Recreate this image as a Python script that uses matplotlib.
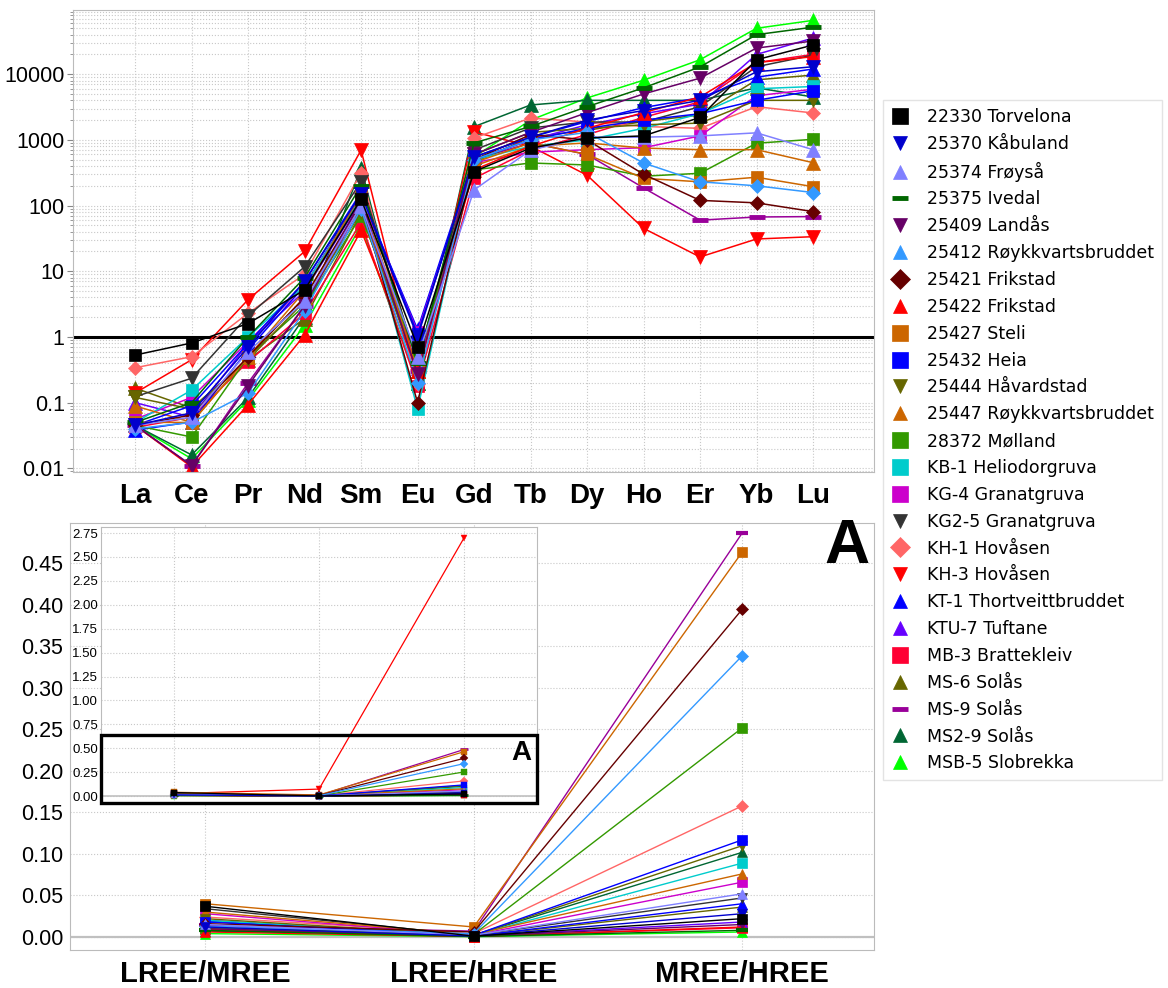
import numpy as np
import matplotlib
matplotlib.use("Agg")
import matplotlib.pyplot as plt
from matplotlib.lines import Line2D
from matplotlib.patches import Rectangle
from matplotlib.ticker import LogLocator, NullFormatter, FixedLocator

#----------------------------------------
#--------chondrite normalised REE-------
#----------------------------------------
elements = ["La", "Ce", "Pr", "Nd", "Sm", "Eu", "Gd", "Tb", "Dy", "Ho", "Er", "Yb", "Lu"]

samples = ["22330 Torvelona", "25370 Kåbuland", "25374 Frøyså", "25375 Ivedal",
           "25409 Landås", "25412 Røykkvartsbruddet", "25421 Frikstad", "25422 Frikstad",
           "25427 Steli", "25432 Heia", "25444 Håvardstad", "25447 Røykkvartsbruddet",
           "28372 Mølland", "KB-1 Heliodorgruva", "KG-4 Granatgruva", "KG2-5 Granatgruva",
           "KH-1 Hovåsen", "KH-3 Hovåsen", "KT-1 Thortveittbruddet", "KTU-7 Tuftane",
           "MB-3 Brattekleiv", "MS-6 Solås", "MS-9 Solås", "MS2-9 Solås", "MSB-5 Slobrekka"]

s22330 = [0.53, 0.81, 1.6, 5.2, 126, 0.71, 330, 750, 1070, 1150, 2200, 16600, 27800]
s25370 = [0.045, 0.07, 0.7, 7, 150, 1.0, 550, 1100, 2000, 2800, 4000, 10900, 13000]
s25374 = [0.045, 0.06, 0.6, 3.5, 100, 0.5, 173, 700, 1100, 1100, 1150, 1280, 710]
s25375 = [0.05, 0.1, 1.0, 8, 200, 0.4, 900, 1600, 3200, 6200, 12900, 40000, 52000]
s25409 = [0.045, 0.011, 0.18, 3, 120, 0.27, 600, 1300, 2600, 5000, 8700, 25000, 32000]
s25412 = [0.04, 0.05, 0.14, 2.5, 90, 0.2, 500, 1000, 1300, 445, 230, 200, 158]
s25421 = [0.045, 0.065, 0.5, 4, 110, 0.10, 500, 1200, 1000, 300, 120, 110, 81]
s25422 = [0.045, 0.0105, 0.093, 1.07, 42, 0.3, 350, 800, 1500, 2600, 4500, 15000, 18500]
s25427 = [0.05, 0.05, 0.5, 5, 150, 0.3, 450, 900, 600, 260, 230, 270, 194]
s25432 = [0.045, 0.09, 0.8, 7, 160, 1.1, 500, 1000, 1500, 2000, 2500, 4000, 5600]
s25444 = [0.12, 0.08, 0.45, 3.5, 80, 0.3, 600, 1300, 1500, 1700, 1800, 4000, 4000]
s25447 = [0.089, 0.05, 0.5, 4, 100, 0.3, 400, 800, 900, 750, 710, 710, 450]
s28372 = [0.045, 0.03, 0.5, 3, 70, 0.48, 350, 445, 415, 280, 310, 890, 1020]
kb1 = [0.05, 0.155, 1.0, 6, 130, 0.08, 500, 800, 1000, 1500, 2500, 6000, 6500]
kg4 = [0.056, 0.12, 0.85, 6, 130, 1.2, 450, 650, 710, 760, 1150, 4700, 5900]
kg25 = [0.123, 0.235, 2.1, 11.7, 230, 0.4, 700, 1520, 1870, 1870, 3200, 13000, 19500]
kh1 = [0.34, 0.50, 2.3, 9, 315, 0.19, 1070, 2150, 1870, 1600, 1500, 3200, 2570]
kh3 = [0.14, 0.45, 3.7, 20, 700, 0.25, 1320, 800, 290, 45, 16.5, 31, 33.6]
kt1 = [0.038, 0.051, 0.64, 6, 140, 1.3, 550, 1100, 1900, 3100, 4400, 9000, 12000]
ktu7 = [0.1, 0.06, 0.8, 5, 120, 0.34, 500, 1000, 1700, 2500, 3500, 20000, 35500]
mb3 = [0.042, 0.06, 0.42, 2.3, 55, 0.18, 260, 700, 1200, 2200, 3800, 15000, 20000]
ms6 = [0.166, 0.083, 0.45, 1.9, 77, 0.3, 450, 1100, 1400, 1900, 2400, 8200, 9700]
ms9 = [0.045, 0.011, 0.2, 3, 100, 0.3, 500, 900, 600, 186, 60, 67, 68]
ms29 = [0.045, 0.016, 0.12, 2, 375, 0.2, 1590, 3400, 4000, 4000, 4000, 6200, 4500]
msb5 = [0.045, 0.014, 0.11, 1.5, 50, 0.2, 550, 2000, 4350, 8100, 16600, 50000, 66000]

# ratio diagram, same sample order
ratio_names = ["LREE/MREE", "LREE/HREE", "MREE/HREE"]
lree_mree = [0.037, 0.012, 0.015, 0.008, 0.010, 0.013, 0.016, 0.006, 0.040, 0.018, 0.022, 0.030,
             0.011, 0.020, 0.028, 0.034, 0.024, 0.025, 0.020, 0.019, 0.009, 0.010, 0.014, 0.007, 0.004]
lree_hree = [0.001, 0.001, 0.002, 0.0005, 0.001, 0.004, 0.006, 0.0005, 0.012, 0.002, 0.002, 0.003,
             0.003, 0.002, 0.002, 0.002, 0.004, 0.073, 0.001, 0.001, 0.0005, 0.001, 0.007, 0.002, 0.0003]
mree_hree = [0.022, 0.028, 0.052, 0.008, 0.015, 0.339, 0.395, 0.012, 0.464, 0.117, 0.110, 0.076,
             0.252, 0.089, 0.066, 0.047, 0.158, 2.70, 0.040, 0.018, 0.011, 0.036, 0.487, 0.102, 0.006]

colors = ["#000000", "#0000CC", "#8080FF", "#006600", "#660066", "#3399FF", "#660000", "#FF0000",
          "#CC6600", "#0000FF", "#666600", "#CC6600", "#339900", "#00CCCC", "#CC00CC", "#333333",
          "#FF6666", "#FF0000", "#0000FF", "#6600FF", "#FF0033", "#666600", "#990099", "#006633",
          "#00FF00"]
markers = ["s", "v", "^", "_", "v", "D", "D", "^", "s", "s", "v", "^", "s", "s", "s", "v",
           "D", "v", "^", "^", "s", "^", "_", "^", "^"]
legend_markers = markers.copy()
legend_markers[5] = "^"

rows = [s22330, s25370, s25374, s25375, s25409, s25412, s25421, s25422, s25427, s25432,
        s25444, s25447, s28372, kb1, kg4, kg25, kh1, kh3, kt1, ktu7, mb3, ms6, ms9, ms29, msb5]

msize = {"s": 9, "v": 10, "^": 10, "D": 7.5, "_": 11}

plt.rcParams["font.family"] = ["Liberation Sans", "DejaVu Sans"]

fig = plt.figure(figsize=(11.68, 9.88), dpi=100)

#----------------------------------------
#--------spider diagram-----------
#----------------------------------------
ax = fig.add_axes([0.0625, 0.5223, 0.6858, 0.4676])
x = np.arange(len(elements))
for i in reversed(range(len(samples))):
    m = markers[i]
    ax.plot(x, rows[i], color=colors[i], lw=1.1, marker=m, ms=msize[m],
            mew=3.5 if m == "_" else 0.5, mec=colors[i], mfc=colors[i])
ax.axhline(1, color="black", lw=2.2, zorder=1)
ax.set_yscale("log")
ax.set_ylim(0.0088, 95000)
ax.set_xlim(-1.1, 13.08)
ax.set_xticks(x)
ax.set_xticklabels(elements, fontsize=20, fontweight="bold")
ax.yaxis.set_major_locator(FixedLocator([0.01, 0.1, 1, 10, 100, 1000, 10000]))
ax.set_yticklabels(["0.01", "0.1", "1", "10", "100", "1000", "10000"], fontsize=15.5)
ax.yaxis.set_minor_locator(LogLocator(base=10, subs=np.arange(2, 10)))
ax.yaxis.set_minor_formatter(NullFormatter())
ax.tick_params(axis="x", length=0, pad=8)
ax.tick_params(axis="y", which="major", length=4, color="#888888", pad=2)
ax.tick_params(axis="y", which="minor", length=2, color="#888888")
ax.grid(axis="y", which="both", ls=":", color="#C8C8C8", lw=0.8)
ax.grid(axis="x", ls=":", color="#C8C8C8", lw=0.8)
ax.set_axisbelow(True)
for sp in ax.spines.values():
    sp.set_color("#BBBBBB")

#----------------------------------------
#--------ratio diagram-----------
#----------------------------------------
ax2 = fig.add_axes([0.0599, 0.0385, 0.6884, 0.4322])
xr = np.arange(3)
for i in reversed(range(len(samples))):
    if samples[i] == "KH-3 Hovåsen":
        continue
    m = markers[i]
    ax2.plot(xr, [lree_mree[i], lree_hree[i], mree_hree[i]], color=colors[i], lw=1.0,
             marker=m, ms=msize[m] * 0.75, mew=3 if m == "_" else 0.5, mec=colors[i], mfc=colors[i])
ax2.axhline(0, color="#C0C0C0", lw=1.6, zorder=1)
ax2.set_ylim(-0.0157, 0.4988)
ax2.set_xlim(-0.503, 2.49)
ax2.set_xticks(xr)
ax2.set_xticklabels(ratio_names, fontsize=21, fontweight="bold")
ax2.set_yticks(np.arange(0, 0.46, 0.05))
ax2.set_yticklabels(["%.2f" % v for v in np.arange(0, 0.46, 0.05)], fontsize=15.5)
ax2.tick_params(axis="x", length=0, pad=7)
ax2.tick_params(axis="y", length=0, pad=5)
ax2.grid(ls=":", color="#C8C8C8", lw=0.8)
ax2.set_axisbelow(True)
for sp in ax2.spines.values():
    sp.set_color("#BBBBBB")
ax2.text(0.966, 0.944, "A", transform=ax2.transAxes, fontsize=45, fontweight="bold",
         ha="center", va="center")

# inset with the full MREE/HREE range
ax3 = fig.add_axes([0.0865, 0.1872, 0.3733, 0.2794])
ax3.set_zorder(5)
ax3.set_facecolor("white")
for i in reversed(range(len(samples))):
    m = markers[i]
    ax3.plot(xr, [lree_mree[i], lree_hree[i], mree_hree[i]], color=colors[i], lw=0.9,
             marker=m, ms=msize[m] * 0.5, mew=2 if m == "_" else 0.3, mec=colors[i], mfc=colors[i])
ax3.axhline(0, color="#C0C0C0", lw=1.2, zorder=1)
ax3.set_ylim(-0.073, 2.813)
ax3.set_xlim(-0.503, 2.503)
ax3.set_xticks(xr)
ax3.set_xticklabels([])
inset_ticks = np.arange(0, 2.76, 0.25)
ax3.set_yticks(inset_ticks)
ax3.set_yticklabels(["%.2f" % v for v in inset_ticks], fontsize=9.5)
ax3.tick_params(length=0, pad=2)
ax3.grid(ls=":", color="#C8C8C8", lw=0.8)
ax3.set_axisbelow(True)
for sp in ax3.spines.values():
    sp.set_color("#BBBBBB")
ax3.add_patch(Rectangle((0, 0), 1, 0.246, transform=ax3.transAxes, fill=False,
                        lw=2.4, ec="black", clip_on=False, zorder=10))
ax3.text(0.963, 0.18, "A", transform=ax3.transAxes, fontsize=20, fontweight="bold",
         ha="center", va="center")

#----------------------------------------
#--------legend-----------
#----------------------------------------
handles = [Line2D([], [], ls="none", marker=legend_markers[i], color=colors[i],
                  ms=11 if legend_markers[i] == "s" else (12 if legend_markers[i] == "_" else 10),
                  mew=3.5 if legend_markers[i] == "_" else 0.5)
           for i in range(len(samples))]
leg = fig.legend(handles, samples, loc="upper left", bbox_to_anchor=(883 / 1168, 1 - 100 / 988),
                 prop={"family": "DejaVu Sans", "size": 12.5}, frameon=True, fancybox=False,
                 edgecolor="#DDDDDD", labelspacing=0.51, handletextpad=1.0, borderpad=0.45,
                 handlelength=1.1, borderaxespad=0)
leg.get_frame().set_linewidth(1.0)

fig.savefig("out.png", dpi=100, facecolor="white")
